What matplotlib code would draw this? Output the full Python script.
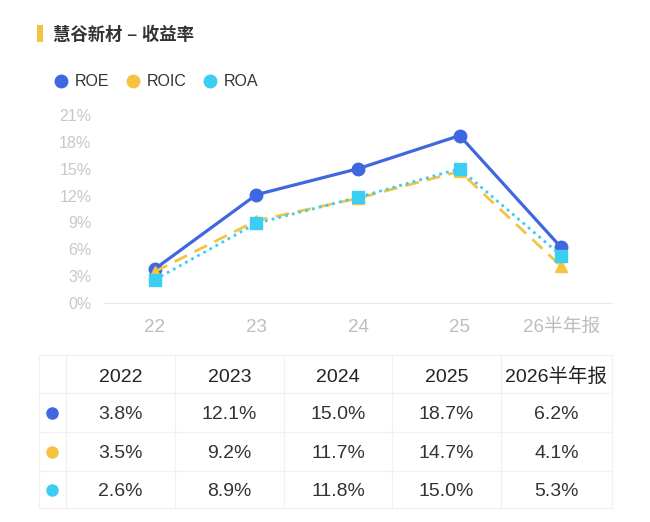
import numpy as np
import matplotlib.pyplot as plt
from matplotlib.patches import Rectangle

plt.rcParams['font.family'] = ['Liberation Sans', 'Noto Sans CJK SC', 'DejaVu Sans']

# ---- données -------------------------------------------------
title = '慧谷新材 – 收益率'
series_names = ['ROE', 'ROIC', 'ROA']
categories = ['22', '23', '24', '25', '26半年报']
years = ['2022', '2023', '2024', '2025', '2026半年报']
roe = [3.8, 12.1, 15.0, 18.7, 6.2]
roic = [3.5, 9.2, 11.7, 14.7, 4.1]
roa = [2.6, 8.9, 11.8, 15.0, 5.3]
yticks = [0, 3, 6, 9, 12, 15, 18, 21]

blue = '#3f67e0'
yellow = '#f5c342'
cyan = '#3ccdf2'
colors = [blue, yellow, cyan]

W, H = 650, 522


def box(l, t, r, b):
    return [l / W, 1 - b / H, (r - l) / W, (b - t) / H]


fig = plt.figure(figsize=(W / 100, H / 100), dpi=100)

# ---- courbes -------------------------------------------------
ax = fig.add_axes(box(104, 115, 612, 303))
x = np.arange(len(categories))
ax.plot(x, roe, color=blue, lw=2.3, marker='o', ms=9, zorder=3)
ax.plot(x, roic, color=yellow, lw=2, ls=(0, (5, 3)), marker='^', ms=9, zorder=4)
ax.plot(x, roa, color=cyan, lw=2, ls=(0, (1, 1.5)), marker='s', ms=8.5, zorder=5)
ax.set_xlim(-0.5, len(categories) - 0.5)
ax.set_ylim(0, 21)
ax.set_yticks(yticks)
ax.set_yticklabels([f'{v}%' for v in yticks])
ax.set_xticks(x)
ax.set_xticklabels(categories)
for s in ['top', 'right', 'left']:
    ax.spines[s].set_visible(False)
ax.spines['bottom'].set_color('#e8e8e8')
ax.tick_params(axis='y', length=0, labelsize=11.5, labelcolor='#c8c8c8', pad=9)
ax.tick_params(axis='x', length=0, labelsize=13.5, labelcolor='#bdbdbd', pad=11.5)

# ---- titre, légende, tableau (coordonnées pixels) -------------
ov = fig.add_axes([0, 0, 1, 1], zorder=-1)
ov.set_xlim(0, W)
ov.set_ylim(H, 0)
ov.axis('off')

ov.add_patch(Rectangle((37, 25), 6, 17, color=yellow, lw=0))
ov.text(53, 34, title, fontsize=12.5, fontweight='bold', color='#333333', va='center')

leg_x = [61, 133, 210]
for lx, name, c in zip(leg_x, series_names, colors):
    ov.plot(lx, 81, 'o', ms=9, color=c)
    ov.text(lx + 14, 81, name, fontsize=11.5, color='#333333', va='center')

col_x = [39, 66, 175, 284, 392, 501, 612]
row_y = [355, 393, 432, 471, 508]
line_c = '#f1f1f1'
for cx in col_x:
    ov.plot([cx, cx], [row_y[0], row_y[-1]], color=line_c, lw=0.9)
for ry in row_y:
    ov.plot([col_x[0], col_x[-1]], [ry, ry], color=line_c, lw=0.9)

centers = [(col_x[i] + col_x[i + 1]) / 2 for i in range(1, len(col_x) - 1)]
for cx, yr in zip(centers, years):
    ov.text(cx, (row_y[0] + row_y[1]) / 2 + 3, yr, fontsize=14, color='#222222',
            ha='center', va='center')
for r, (vals, c) in enumerate(zip([roe, roic, roa], colors)):
    cy = (row_y[r + 1] + row_y[r + 2]) / 2
    ov.plot(52, cy, 'o', ms=8, color=c)
    for cx, v in zip(centers, vals):
        ov.text(cx, cy + 2, f'{v:.1f}%', fontsize=14, color='#333333',
                ha='center', va='center')

fig.savefig('out.png', dpi=100, facecolor='white')
